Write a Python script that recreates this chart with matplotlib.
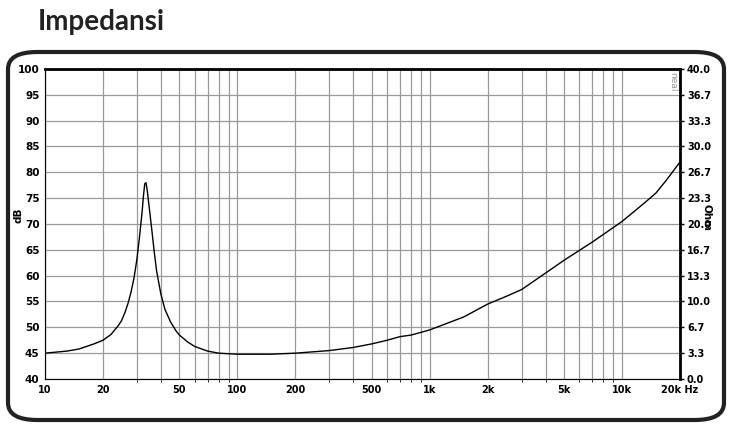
import matplotlib
matplotlib.use("Agg")
import matplotlib.pyplot as plt
import numpy as np
from matplotlib.patches import FancyBboxPatch

freq = [10, 13, 15, 18, 20, 22, 24, 25, 26, 27, 28, 29, 30, 31, 32, 32.5, 33, 33.5, 34, 35, 36, 37, 38, 40, 42, 45, 48, 50, 55, 60, 70, 80, 100, 150, 200, 300, 400, 500, 600, 700, 800, 1000, 1500, 2000, 2500, 3000, 4000, 5000, 7000, 10000, 13000, 15000, 17000, 20000]
db = [45, 45.4, 45.8, 46.8, 47.5, 48.6, 50.3, 51.3, 52.8, 54.6, 56.8, 59.5, 63, 67.5, 72.5, 75.5, 77.8, 78, 76.5, 72.5, 68.5, 64.5, 61, 56.5, 53.5, 51, 49.3, 48.5, 47.2, 46.3, 45.4, 45, 44.8, 44.8, 45, 45.5, 46.1, 46.8, 47.5, 48.2, 48.5, 49.5, 52, 54.5, 56, 57.3, 60.5, 63, 66.5, 70.5, 74, 76, 78.5, 82]
xticks = [10, 20, 50, 100, 200, 500, 1000, 2000, 5000, 10000, 20000]
xlabels = ["10", "20", "50", "100", "200", "500", "1k", "2k", "5k", "10k", "20k Hz"]
yticks = list(range(40, 101, 5))
ohm_labels = ["0.0", "3.3", "6.7", "10.0", "13.3", "16.7", "20.0", "23.3", "26.7", "30.0", "33.3", "36.7", "40.0"]

fig = plt.figure(figsize=(7.35, 4.28), dpi=100)
fig.patches.append(FancyBboxPatch((8/735, 8/428), 716/735, 368/428, boxstyle="round,pad=0,rounding_size=0.04",
                                  transform=fig.transFigure, fill=False, lw=3, ec="#222222"))
fig.text(38/735, 1 - 22/428, "Impedansi", fontsize=20, fontweight="bold", family="Lato", va="center", color="#222222")

ax = fig.add_axes([45/735, 1 - 379/428, 635/735, 310/428])
ax.set_xscale("log")
ax.set_xlim(10, 20000)
ax.set_ylim(40, 100)
ax.plot(freq, db, color="black", lw=1.0)
ax.set_xticks(xticks)
ax.set_xticklabels(xlabels, fontsize=7, fontweight="bold")
ax.set_yticks(yticks)
ax.set_yticklabels([str(v) for v in yticks], fontsize=7.5, fontweight="bold")
ax.xaxis.set_minor_formatter(matplotlib.ticker.NullFormatter())
ax.grid(True, which="both", color="#999999", lw=0.9)
ax.tick_params(length=0, pad=4)
for s in ["left", "bottom"]:
    ax.spines[s].set_color("#999999")
ax.spines["top"].set_linewidth(2)
ax.spines["right"].set_linewidth(2)
fig.text(18/735, 1 - 215/428, "dB", rotation=90, fontsize=7.5, fontweight="bold", ha="center", va="center")
fig.text(706/735, 1 - 218/428, "Ohm", rotation=-90, fontsize=7.5, fontweight="bold", ha="center", va="center")
ax2 = ax.twinx()
ax2.set_ylim(40, 100)
ax2.set_yticks(yticks)
ax2.set_yticklabels(ohm_labels, fontsize=7, fontweight="bold")
ax2.tick_params(length=3, width=1, pad=2)
ax.text(0.995, 0.99, "neal", transform=ax.transAxes, rotation=-90, fontsize=6.5, color="#999999", ha="right", va="top")
fig.savefig("out.png", dpi=100)
